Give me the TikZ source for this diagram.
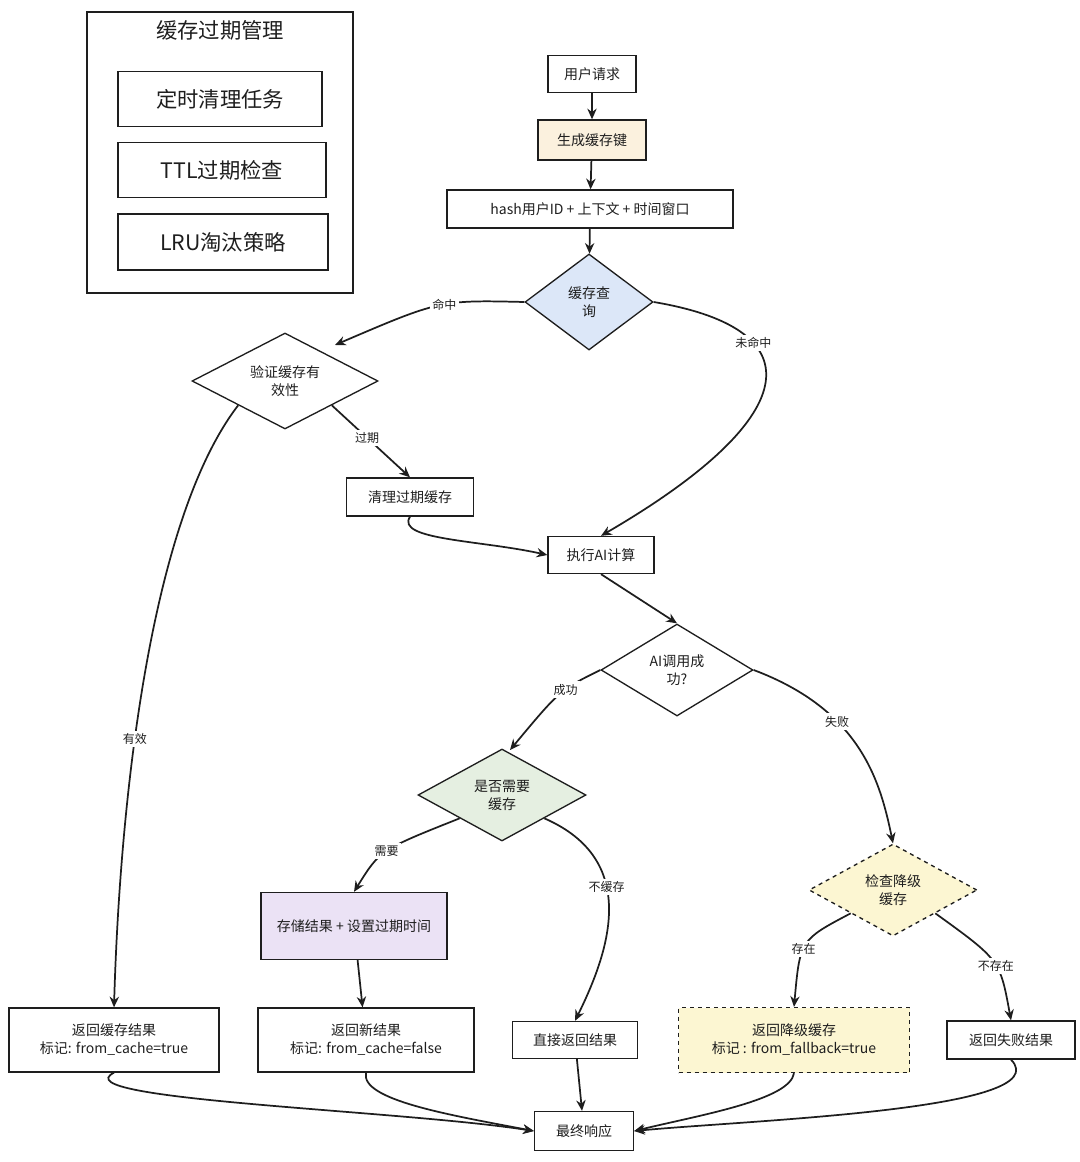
\documentclass[tikz,border=0pt]{standalone}
\usepackage{fontspec}
\setmainfont{Noto Sans CJK SC}
\usetikzlibrary{shapes.geometric,arrows.meta}
\definecolor{bg1}{HTML}{FBF1DE}
\definecolor{bgb}{HTML}{DCE7F8}
\definecolor{bgg}{HTML}{E5EFE1}
\definecolor{bgp}{HTML}{EBE2F5}
\definecolor{bgy}{HTML}{FCF6D2}
\definecolor{ink}{HTML}{1E1E1E}
\begin{document}
\begin{tikzpicture}[x=0.75pt,y=-0.75pt,
  every node/.style={text=ink},
  box/.style={draw=ink,line width=1pt,rectangle,align=center,font=\fontsize{10.5}{13.5}\selectfont},
  dia/.style={draw=ink,line width=1pt,diamond,aspect=1.6,align=center,inner sep=1pt,font=\fontsize{10.5}{13.5}\selectfont},
  arr/.style={draw=ink,line width=1.3pt,-{Stealth[length=8pt,width=7pt]}},
  lab/.style={fill=white,font=\fontsize{9}{10}\selectfont,inner sep=2pt}]
\useasboundingbox (0,0) rectangle (1080,1162);
% legend
\draw[ink,line width=1pt] (87,12) rectangle (353,293);
\node[font=\fontsize{16}{18}\selectfont] (lt) at (220,30) {缓存过期管理};
\node[box,minimum width=204*0.75pt,minimum height=55*0.75pt,font=\fontsize{16}{18}\selectfont] (l1) at (220,99) {定时清理任务};
\node[box,minimum width=208*0.75pt,minimum height=55*0.75pt,font=\fontsize{16}{18}\selectfont] (l2) at (222,170) {TTL过期检查};
\node[box,minimum width=210*0.75pt,minimum height=56*0.75pt,font=\fontsize{16}{18}\selectfont] (l3) at (223,242) {LRU淘汰策略};
% main
\node[box,minimum width=88*0.75pt,minimum height=37*0.75pt] (req) at (592,74) {用户请求};
\node[box,fill=bg1,minimum width=108*0.75pt,minimum height=40*0.75pt] (key) at (592,140) {生成缓存键};
\node[box,minimum width=286*0.75pt,minimum height=38*0.75pt] (hash) at (590,209) {hash用户ID + 上下文 + 时间窗口};
\node[dia,fill=bgb,minimum width=128*0.75pt,minimum height=96*0.75pt] (q) at (589,302) {缓存查\\询};
\node[dia,minimum width=186*0.75pt,minimum height=96*0.75pt] (v) at (285,381) {验证缓存有\\效性};
\node[box,minimum width=127*0.75pt,minimum height=38*0.75pt] (clean) at (410,497) {清理过期缓存};
\node[box,minimum width=106*0.75pt,minimum height=37*0.75pt] (ai) at (601,555) {执行AI计算};
\node[dia,minimum width=152*0.75pt,minimum height=92*0.75pt] (ok) at (677,670) {AI调用成\\功?};
\node[dia,fill=bgg,minimum width=168*0.75pt,minimum height=92*0.75pt] (need) at (502,795) {是否需要\\缓存};
\node[box,fill=bgp,minimum width=186*0.75pt,minimum height=67*0.75pt] (store) at (354,926) {存储结果 + 设置过期时间};
\node[dia,dashed,fill=bgy,minimum width=168*0.75pt,minimum height=92*0.75pt] (fb) at (893,890) {检查降级\\缓存};
\node[box,minimum width=210*0.75pt,minimum height=64*0.75pt] (r1) at (114,1040) {返回缓存结果\\标记: from\_cache=true};
\node[box,minimum width=216*0.75pt,minimum height=64*0.75pt] (r2) at (366,1040) {返回新结果\\标记: from\_cache=false};
\node[box,minimum width=125*0.75pt,minimum height=37*0.75pt] (r3) at (575,1040) {直接返回结果};
\node[box,dashed,fill=bgy,minimum width=231*0.75pt,minimum height=65*0.75pt] (r4) at (794,1040) {返回降级缓存\\标记 : from\_fallback=true};
\node[box,minimum width=128*0.75pt,minimum height=38*0.75pt] (r5) at (1011,1040) {返回失败结果};
\node[box,minimum width=99*0.75pt,minimum height=39*0.75pt] (fin) at (584,1131) {最终响应};
% edges
\draw[arr] (req) -- (key);
\draw[arr] (key) -- (hash);
\draw[arr] (hash) -- (q);
\draw[arr] (q.west) .. controls (440,300) .. (335,345) node[lab,pos=0.45] {命中};
\draw[arr] (q.east) .. controls (820,330) and (800,420) .. (ai.north) node[lab,pos=0.3] {未命中};
\draw[arr] (v.south east) -- (clean.north) node[lab,pos=0.45] {过期};
\draw[arr] (v.south west) .. controls (150,520) and (120,800) .. (r1.north) node[lab,pos=0.6] {有效};
\draw[arr] (clean.south) .. controls (395,540) and (480,540) .. (ai.west);
\draw[arr] (ai.south) -- (ok.north);
\draw[arr] (ok.west) .. controls (560,690) .. (510,750) node[lab,pos=0.4] {成功};
\draw[arr] (ok.east) .. controls (860,710) and (880,780) .. (fb.north) node[lab,pos=0.35] {失败};
\draw[arr] (need.south west) .. controls (380,850) .. (store.north) node[lab,pos=0.5] {需要};
\draw[arr] (need.south east) .. controls (640,860) and (610,950) .. (r3.north) node[lab,pos=0.4] {不缓存};
\draw[arr] (store) -- (r2);
\draw[arr] (fb.south west) .. controls (800,940) .. (r4.north) node[lab,pos=0.55] {存在};
\draw[arr] (fb.south east) .. controls (1000,960) .. (r5.north) node[lab,pos=0.55] {不存在};
\draw[arr] (r1.south) .. controls (60,1100) and (400,1110) .. (fin.west);
\draw[arr] (r2.south) .. controls (360,1100) and (450,1115) .. (fin.west);
\draw[arr] (r3) -- (fin);
\draw[arr] (r4.south) .. controls (790,1100) and (700,1115) .. (fin.east);
\draw[arr] (r5.south) .. controls (1060,1110) and (750,1120) .. (fin.east);
\end{tikzpicture}
\end{document}
